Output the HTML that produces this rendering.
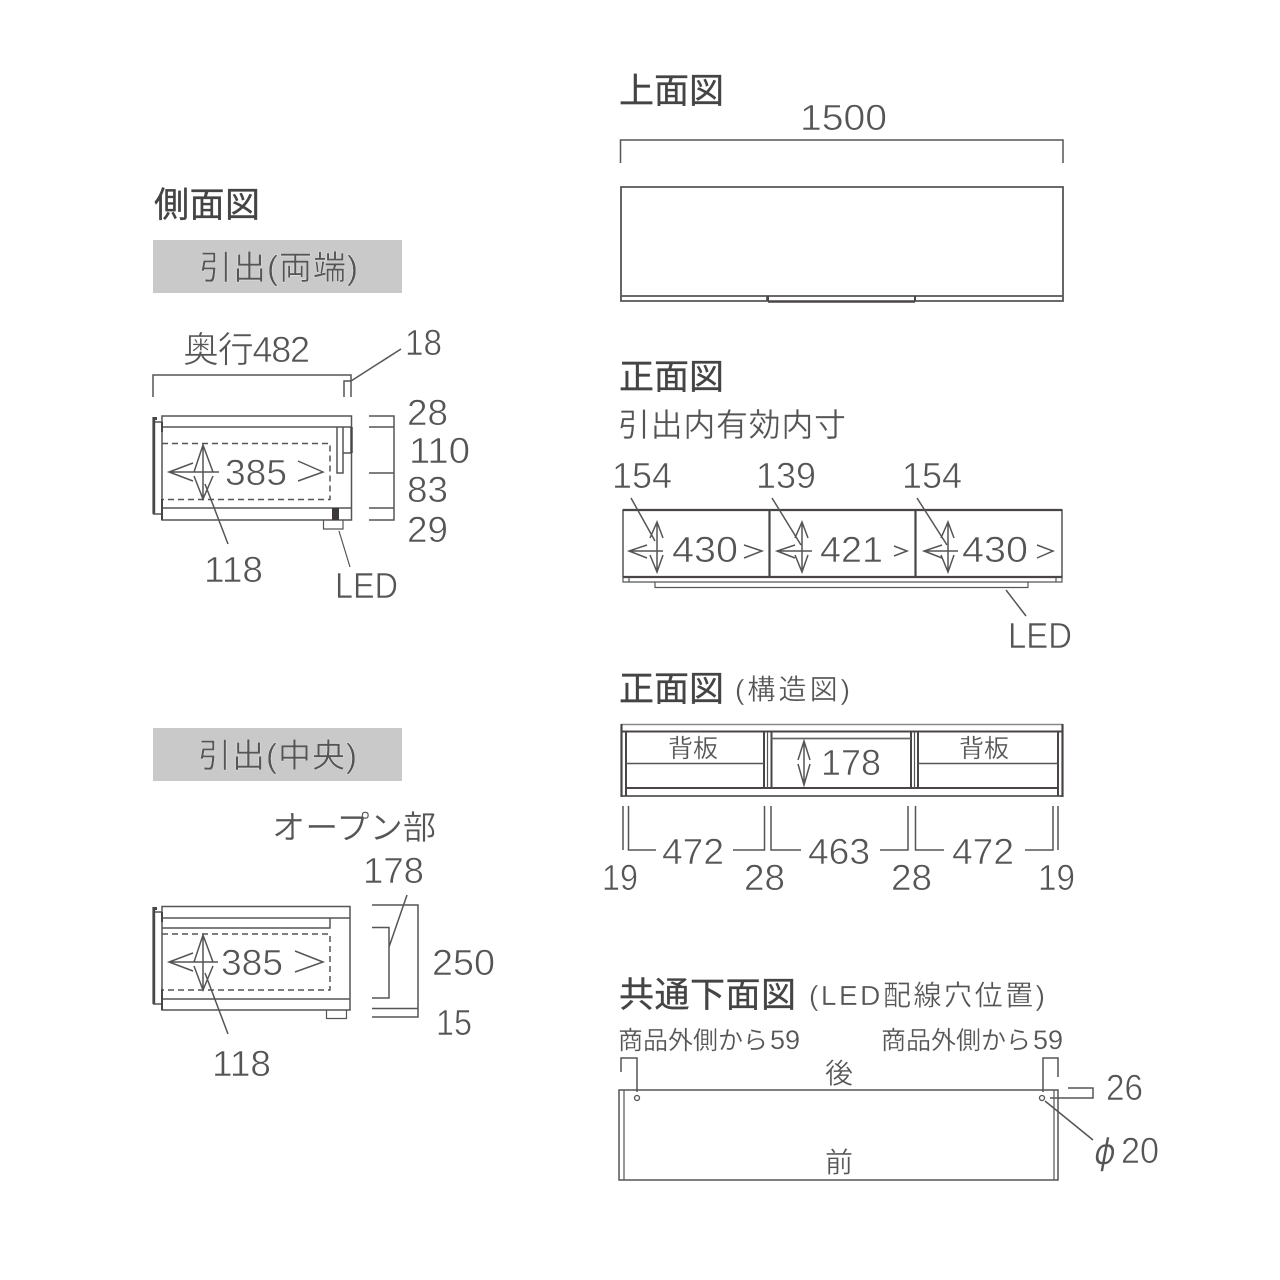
<!DOCTYPE html>
<html><head><meta charset="utf-8"><style>
html,body{margin:0;padding:0;background:#fff}
svg{display:block}
text{font-family:"Liberation Sans","Noto Sans CJK JP",sans-serif;fill:#555;stroke:#fff;stroke-width:.6;font-size:36px}
.h{font-size:35px;fill:#444;stroke:#444;stroke-width:.3}
.j{font-size:28px;stroke-width:.3}
.s{font-size:25px;stroke-width:.2}
.l{fill:none;stroke:#555;stroke-width:1.5}
.t{fill:none;stroke:#4a4545;stroke-width:2.5}
.m{fill:none;stroke:#555;stroke-width:1.2}
</style></head><body>
<svg width="1280" height="1280" viewBox="0 0 1280 1280" xmlns="http://www.w3.org/2000/svg">
<rect width="1280" height="1280" fill="#fff"/>
<rect x="153" y="240" width="249" height="53" fill="#c9c9c9"/>
<rect x="153" y="728" width="249" height="53" fill="#c9c9c9"/>

<text class="h" x="154" y="217" textLength="106">側面図</text>
<text class="h" x="619" y="103" textLength="105">上面図</text>
<text class="h" x="619" y="389" textLength="105">正面図</text>
<text class="h" x="619" y="701" textLength="105">正面図</text>
<text class="j" x="735" y="699" textLength="115">(構造図)</text>
<text class="h" x="619" y="1007" textLength="177">共通下面図</text>
<text class="j" x="809" y="1005" textLength="236">(LED配線穴位置)</text>
<text x="199" y="279" textLength="159" style="stroke-width:.3;font-size:33px">引出(両端)</text>
<text x="198" y="767" textLength="159" style="stroke-width:.3;font-size:33px">引出(中央)</text>
<text x="618" y="436" textLength="228" style="stroke-width:.3;font-size:32px">引出内有効内寸</text>

<!-- side 1 -->
<path class="l" d="M153 397V375H351V397M344 397V381H351L401 349"/>
<path class="l" d="M162 416H351.500V520H162ZM162 427H351M162 508H351"/>
<path class="l" d="M337 427V473H343V427M343 453H351"/>
<path d="M351.500 427V453" stroke="#4a4545" stroke-width="2.500" fill="none"/>
<path d="M153.800 417V514" stroke="#4a4545" stroke-width="2.800" fill="none"/>
<path d="M153 418.500H157" stroke="#4a4545" stroke-width="3" fill="none"/>
<path class="l" d="M155 422H162M153 514H162"/>
<path d="M162 422V432M162 499V520" stroke="#4a4545" stroke-width="2" fill="none"/>
<path d="M162 443.500H330V499.500H162" fill="none" stroke="#555" stroke-width="1.500" stroke-dasharray="6 4"/>
<rect x="332" y="508" width="7" height="12" fill="#3c3838"/>
<path class="m" d="M323.500 520V529H343V520M339 531L350 567"/>
<path class="l" d="M369 416H394V520H369M369 427H394M369 473H394M369 508H394"/>
<path class="l" d="M193 463L169 472L193 481M169 472H219M298 461L323 472L298 481M194 472L203 445L213 472M194 476L203 499L213 476M203 445V499M205 484L228 544"/>
<text x="183" y="362" textLength="127">奥行482</text>
<text x="405" y="355" textLength="37" lengthAdjust="spacingAndGlyphs">18</text>
<text x="407" y="425" textLength="41" lengthAdjust="spacingAndGlyphs">28</text>
<text x="409" y="463" textLength="61" lengthAdjust="spacingAndGlyphs">110</text>
<text x="407" y="502" textLength="41" lengthAdjust="spacingAndGlyphs">83</text>
<text x="407" y="542" textLength="41" lengthAdjust="spacingAndGlyphs">29</text>
<text x="225" y="485" textLength="62" lengthAdjust="spacingAndGlyphs">385</text>
<text x="204" y="582" textLength="59" lengthAdjust="spacingAndGlyphs">118</text>
<text x="335" y="598" textLength="63" lengthAdjust="spacingAndGlyphs">LED</text>

<!-- side 2 -->
<path class="l" d="M162 906.500H350V1010H162ZM162 918H350M162 999H350M330 918V928H162"/>
<path d="M153.800 907V1004" stroke="#4a4545" stroke-width="2.800" fill="none"/>
<path d="M153 908.500H157" stroke="#4a4545" stroke-width="3" fill="none"/>
<path class="l" d="M155 912H162M153 1004H162"/>
<path d="M162 912V922M162 989V1010" stroke="#4a4545" stroke-width="2" fill="none"/>
<path d="M162 934H330V990H162" fill="none" stroke="#555" stroke-width="1.500" stroke-dasharray="6 4"/>
<path class="m" d="M326.500 1010V1018.500H346.500V1010"/>
<path class="l" d="M372 905H418V1017H372M372 1008.500H418M372 927.500H389V998H372M389 947L407 895"/>
<path class="l" d="M193 953L169 962L193 971M169 962H218M295 951L323 962L295 972M194 962L203 935L213 962M194 966L203 990L213 966M203 935V990M205 973L228 1034"/>
<text x="272" y="839" textLength="164" style="font-size:33px;stroke-width:.3">オープン部</text>
<text x="363" y="883" textLength="61" lengthAdjust="spacingAndGlyphs">178</text>
<text x="221" y="975" textLength="62" lengthAdjust="spacingAndGlyphs">385</text>
<text x="432" y="975" textLength="63" lengthAdjust="spacingAndGlyphs">250</text>
<text x="436" y="1035" textLength="36" lengthAdjust="spacingAndGlyphs">15</text>
<text x="212" y="1076" textLength="59" lengthAdjust="spacingAndGlyphs">118</text>

<!-- top -->
<path class="l" d="M620.500 163V140H1063V163"/>
<path class="l" d="M621 187H1063V296H621ZM621 296V301H767V296M915 301H1063V296" style="stroke-width:1.800"/>
<path d="M768 301.500H915" stroke="#4a4545" stroke-width="2.500" fill="none"/>
<path d="M768 296V301M915 296V301" stroke="#4a4545" stroke-width="2" fill="none"/>
<text x="800" y="130" textLength="87" lengthAdjust="spacingAndGlyphs">1500</text>

<!-- front -->
<path class="l" d="M623 510H1062V577H623Z"/>
<path d="M623 510H1062M623 577H1062M769.500 510V577M915.500 510V577" stroke="#4a4545" stroke-width="2.200" fill="none"/>
<path class="m" d="M623 577V582H1062V577M629 577V582M1056 577V582"/>
<path class="m" d="M655 582V587.500H1028V582"/>
<path class="l" d="M1006 590L1026 616"/>
<g class="m" style="stroke:#555;stroke-width:1.500;fill:none">
<path d="M647 545L629 551L647 558M629 551H663M744 545L762 551L744 558M650 538L657 522L663 538M650 555L657 572L663 555M657 522V572M631 498L655 541"/>
<path d="M795 545L777 551L795 558M777 551H812M894 546L907 551L894 556M795 538L802 522L808 538M795 555L802 572L808 555M802 522V572M772 498L801 545"/>
<path d="M942 545L924 551L942 558M924 551H958M1037 545L1053 551L1037 558M941 538L948 522L954 538M941 555L948 572L954 555M948 522V572M917 498L947 545"/>
</g>
<text x="612" y="488" textLength="60" lengthAdjust="spacingAndGlyphs">154</text>
<text x="756" y="488" textLength="60" lengthAdjust="spacingAndGlyphs">139</text>
<text x="902" y="488" textLength="60" lengthAdjust="spacingAndGlyphs">154</text>
<text x="672" y="562" textLength="66" lengthAdjust="spacingAndGlyphs">430</text>
<text x="820" y="562" textLength="63" lengthAdjust="spacingAndGlyphs">421</text>
<text x="962" y="562" textLength="66" lengthAdjust="spacingAndGlyphs">430</text>
<text x="1008" y="648" textLength="64" lengthAdjust="spacingAndGlyphs">LED</text>

<!-- structure -->
<path d="M621 724.500H1063" stroke="#888" stroke-width="1.500" fill="none"/>
<path d="M621 731.500H1063M626 788H1058" stroke="#4a4545" stroke-width="2" fill="none"/>
<path d="M621 796H1063" stroke="#555" stroke-width="1.800" fill="none"/>
<path d="M621.500 724V797M1062.500 724V797" stroke="#4a4545" stroke-width="2.200" fill="none"/>
<path d="M626 732V796M764 732V788M771.500 732V788M911 732V788M918 732V788M1058 732V796" stroke="#4a4545" stroke-width="2" fill="none"/>
<path class="m" d="M767.500 732V788M914.500 732V788"/>
<path class="l" d="M626 763.500H764M918 763.500H1058"/>
<path d="M771 738.500H911" stroke="#666" stroke-width="1.800" fill="none"/>
<path class="l" d="M804 741V785M798 760L804 741L810 760M798 764L804 785L810 764"/>
<text class="s" x="668" y="757" textLength="50">背板</text>
<text class="s" x="959" y="757" textLength="50">背板</text>
<text x="821" y="775" textLength="60" lengthAdjust="spacingAndGlyphs">178</text>
<path class="l" d="M623 806V850M628.500 806V850H656M764.500 806V850H733M771 806V850H801M908 806V850H880M915.500 806V850H944M1053 806V850H1025M1058 806V850"/>
<text x="662" y="864" textLength="62" lengthAdjust="spacingAndGlyphs">472</text>
<text x="808" y="864" textLength="62" lengthAdjust="spacingAndGlyphs">463</text>
<text x="952" y="864" textLength="62" lengthAdjust="spacingAndGlyphs">472</text>
<text x="602" y="890" textLength="36" lengthAdjust="spacingAndGlyphs">19</text>
<text x="744" y="890" textLength="41" lengthAdjust="spacingAndGlyphs">28</text>
<text x="891" y="890" textLength="41" lengthAdjust="spacingAndGlyphs">28</text>
<text x="1038" y="890" textLength="37" lengthAdjust="spacingAndGlyphs">19</text>

<!-- bottom -->
<text class="s" x="618" y="1049">商品外側から<tspan style="font-size:27px" dx="2">59</tspan></text>
<text class="s" x="881" y="1049">商品外側から<tspan style="font-size:27px" dx="2">59</tspan></text>
<path class="l" d="M619 1090H1058V1180H619Z"/>
<path class="m" d="M624 1090V1180M1054 1090V1180"/>
<circle cx="637" cy="1098" r="2.500" fill="#fff" stroke="#555" stroke-width="1.300"/>
<circle cx="1042" cy="1098" r="2.500" fill="#fff" stroke="#555" stroke-width="1.300"/>
<path class="l" d="M621 1072V1058H637V1092M1043 1092V1058H1058V1077M1068 1088H1093V1098H1050M1045 1101L1093 1140"/>
<text x="825" y="1083" textLength="28" style="font-size:28px;stroke-width:.3">後</text>
<text x="825" y="1172" textLength="28" style="font-size:28px;stroke-width:.3">前</text>
<text x="1106" y="1100" textLength="37" lengthAdjust="spacingAndGlyphs">26</text>
<text x="1094" y="1164" style="font-style:italic;font-size:36px;stroke-width:.5;font-family:'DejaVu Sans',sans-serif" textLength="22" lengthAdjust="spacingAndGlyphs">ϕ</text>
<text x="1121" y="1163" textLength="38" lengthAdjust="spacingAndGlyphs">20</text>
</svg>
</body></html>
